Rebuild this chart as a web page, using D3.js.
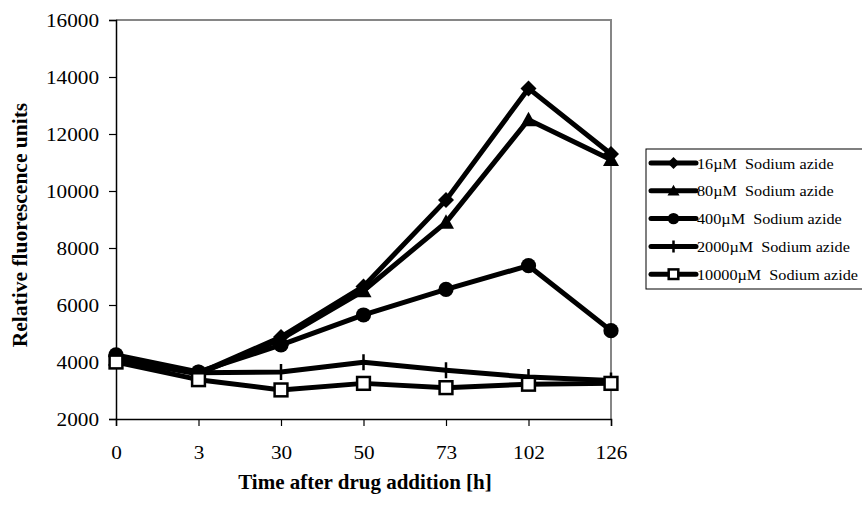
<!DOCTYPE html>
<html>
<head>
<meta charset="UTF-8">
<title>Sodium azide</title>
<script src="https://cdn.jsdelivr.net/npm/d3@7/dist/d3.min.js"></script>
<style>
  body { margin: 0; background: #fff; }
  text { font-family: "Liberation Serif", "Times New Roman", serif; fill: #000; }
</style>
</head>
<body>
<script>
var hours = ["0", "3", "30", "50", "73", "102", "126"];
var yTicks = [2000, 4000, 6000, 8000, 10000, 12000, 14000, 16000];
var seriesNames = ["16\u00b5M  Sodium azide", "80\u00b5M  Sodium azide", "400\u00b5M  Sodium azide",
                   "2000\u00b5M  Sodium azide", "10000\u00b5M  Sodium azide"];
var markers = ["diamond", "triangle", "circle", "plus", "square"];
var azide16    = [4200, 3600, 4880, 6650, 9680, 13600, 11300];
var azide80    = [4100, 3580, 4800, 6500, 8900, 12500, 11100];
var azide400   = [4250, 3650, 4600, 5650, 6550, 7380, 5100];
var azide2000  = [4050, 3620, 3650, 3990, 3710, 3470, 3350];
var azide10000 = [4000, 3380, 3020, 3250, 3100, 3220, 3250];
var allSeries = [azide16, azide80, azide400, azide2000, azide10000];

var w = 862, h = 505;
var pLeft = 116, pRight = 611, pTop = 20, pBottom = 419;

var svg = d3.select("body").append("svg")
    .attr("width", w)
    .attr("height", h);

// the original text is a bit wider than the font, stretch it
function stretch(sel, f) {
  sel.each(function() {
    var len = this.getComputedTextLength();
    d3.select(this).attr("textLength", len * f).attr("lengthAdjust", "spacingAndGlyphs");
  });
}

var x = d3.scalePoint().domain(hours).range([pLeft, pRight]);
var y = d3.scaleLinear().domain([2000, 16000]).range([pBottom, pTop]);

// frame: gray top/right, axes black
svg.append("path")
    .attr("d", "M" + pLeft + "," + pTop + "H" + pRight + "V" + pBottom)
    .attr("fill", "none").attr("stroke", "#868686").attr("stroke-width", 2);

var yAxis = svg.append("g")
    .attr("transform", "translate(" + pLeft + ",0)")
    .call(d3.axisLeft(y).tickValues(yTicks).tickSize(7).tickPadding(10).tickFormat(d3.format("d")));
var xAxis = svg.append("g")
    .attr("transform", "translate(0," + pBottom + ")")
    .call(d3.axisBottom(x).tickSize(7).tickPadding(20));

[yAxis, xAxis].forEach(function(a) {
  a.select(".domain").attr("stroke", "#000").attr("stroke-width", 1.5);
  a.selectAll(".tick line").attr("stroke", "#000").attr("stroke-width", 1.2);
  a.selectAll("text").style("font-size", "18px").style("font-family", "Liberation Serif");
  stretch(a.selectAll("text"), 1.18);
});
yAxis.selectAll("text").attr("dy", "0.34em");
xAxis.selectAll("text").attr("dy", "0.71em");

// axis titles
svg.append("text")
    .attr("transform", "translate(27,225) rotate(-90)")
    .attr("text-anchor", "middle")
    .style("font-size", "21.5px").style("font-weight", "bold")
    .text("Relative fluorescence units");
svg.append("text")
    .attr("x", 365).attr("y", 489)
    .attr("text-anchor", "middle")
    .style("font-size", "21px").style("font-weight", "bold")
    .text("Time after drug addition [h]");

function drawMarker(g, type, cx, cy, s) {
  if (type == "diamond") {
    g.append("path").attr("d", "M" + cx + "," + (cy - s) + "L" + (cx + s) + "," + cy + "L" + cx + "," + (cy + s) + "L" + (cx - s) + "," + cy + "Z")
      .attr("fill", "#000");
  } else if (type == "triangle") {
    g.append("path").attr("d", "M" + cx + "," + (cy - s) + "L" + (cx + s) + "," + (cy + s * 0.8) + "L" + (cx - s) + "," + (cy + s * 0.8) + "Z")
      .attr("fill", "#000");
  } else if (type == "circle") {
    g.append("circle").attr("cx", cx).attr("cy", cy).attr("r", s * 0.95).attr("fill", "#000");
  } else if (type == "plus") {
    g.append("path").attr("d", "M" + cx + "," + (cy - s) + "V" + (cy + s) + "M" + (cx - s * 0.4) + "," + cy + "H" + (cx + s * 0.4))
      .attr("stroke", "#000").attr("stroke-width", 2.5);
  } else if (type == "square") {
    g.append("rect").attr("x", cx - s * 0.8).attr("y", cy - s * 0.8).attr("width", s * 1.6).attr("height", s * 1.6)
      .attr("fill", "#fff").attr("stroke", "#000").attr("stroke-width", 2.5);
  }
}

var line = d3.line()
    .x(function(d, i) { return x(hours[i]); })
    .y(function(d) { return y(d); });

allSeries.forEach(function(vals, k) {
  var g = svg.append("g");
  g.append("path").datum(vals)
    .attr("d", line)
    .attr("fill", "none").attr("stroke", "#000").attr("stroke-width", 5)
    .attr("stroke-linejoin", "round");
  vals.forEach(function(v, i) {
    drawMarker(g, markers[k], x(hours[i]), y(v), 8);
  });
});

// legend
var lg = svg.append("g");
lg.append("rect")
    .attr("x", 646).attr("y", 149).attr("width", 230).attr("height", 140)
    .attr("fill", "#fff").attr("stroke", "#000").attr("stroke-width", 1);
seriesNames.forEach(function(name, k) {
  var ly = 163 + k * 27.8;
  lg.append("line").attr("x1", 651).attr("x2", 696).attr("y1", ly).attr("y2", ly)
    .attr("stroke", "#000").attr("stroke-width", 5).attr("stroke-linecap", "round");
  drawMarker(lg, markers[k], 673.5, ly, 6);
  var t = lg.append("text").attr("x", 697).attr("y", ly + 5.5)
    .style("font-size", "15.5px").style("white-space", "pre")
    .attr("xml:space", "preserve")
    .text(name);
  stretch(t, 1.045);
});
</script>
</body>
</html>
